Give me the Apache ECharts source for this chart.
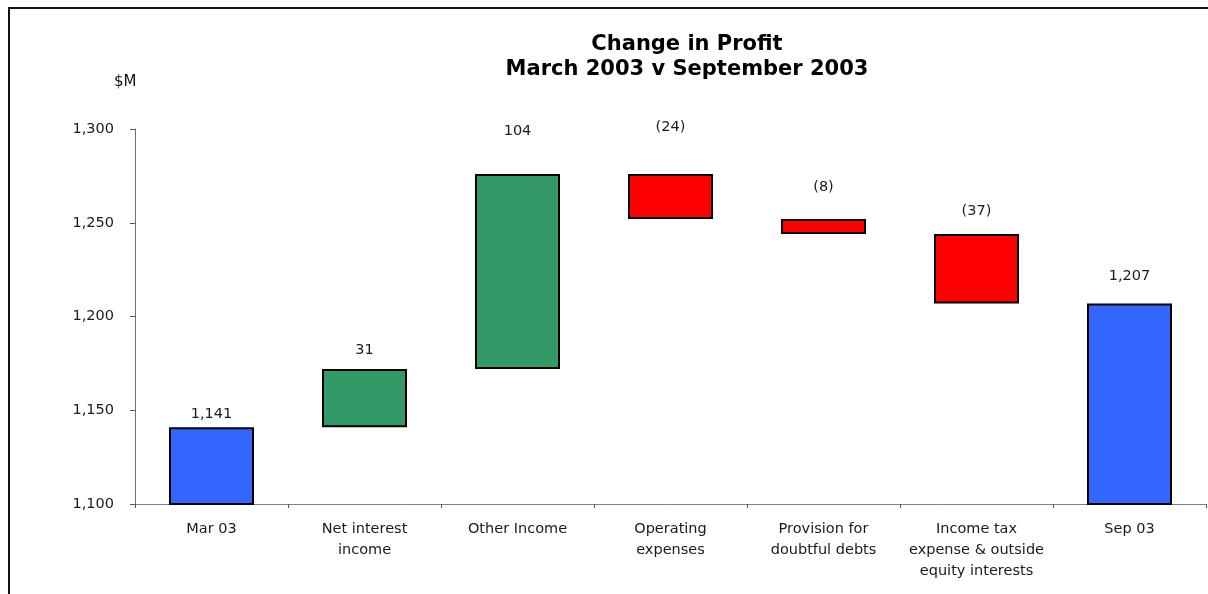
<!DOCTYPE html>
<html>
<head>
<meta charset="utf-8">
<title>Change in Profit</title>
<script src="https://cdn.jsdelivr.net/npm/echarts@6/dist/echarts.min.js"></script>
<style>
  html, body { margin: 0; padding: 0; background: #ffffff; overflow: hidden; }
  #chart { width: 1208px; height: 594px; }
</style>
</head>
<body>
<div id="chart"></div>
<script>
// Profit bridge, $M
const categories = [
  'Mar 03',
  'Net interest\nincome',
  'Other Income',
  'Operating\nexpenses',
  'Provision for\ndoubtful debts',
  'Income tax\nexpense & outside\nequity interests',
  'Sep 03'
];
const openingProfit = 1141;
const profitChanges = [31, 104, -24, -8, -37];
const closingProfit = 1207;
const yTicks = { min: 1100, max: 1300, interval: 50 };

// how far each value label sits above its bar (px)
const labelGaps = [5, 11, 35, 39, 24, 15, 20];

const COLOR_TOTAL = '#3366FF';
const COLOR_UP = '#339966';
const COLOR_DOWN = '#FF0000';
const FONT = '"DejaVu Sans", Verdana, sans-serif';

// Build the floating bars: an invisible base plus the visible step
const baseValues = [0];
const stepValues = [openingProfit];
const stepColors = [COLOR_TOTAL];
const labelTexts = [openingProfit];
let running = openingProfit;
profitChanges.forEach(function (d) {
  const next = running + d;
  baseValues.push(Math.min(running, next));
  stepValues.push(Math.abs(d));
  stepColors.push(d >= 0 ? COLOR_UP : COLOR_DOWN);
  labelTexts.push(d);
  running = next;
});
baseValues.push(0);
stepValues.push(closingProfit);
stepColors.push(COLOR_TOTAL);
labelTexts.push(closingProfit);

function fmt(v) {
  const s = Math.abs(v).toLocaleString('en-US');
  return v < 0 ? '(' + s + ')' : s;
}

const chart = echarts.init(document.getElementById('chart'), null, { renderer: 'canvas' });

chart.setOption({
  animation: false,
  backgroundColor: '#ffffff',
  title: {
    text: 'Change in Profit\nMarch 2003 v September 2003',
    left: 687,
    top: 32,
    padding: 0,
    textAlign: 'center',
    textStyle: {
      fontFamily: FONT,
      fontWeight: 'bold',
      fontSize: 21,
      lineHeight: 25,
      color: '#000000'
    }
  },
  graphic: [
    {
      // page frame, left edge
      type: 'line',
      silent: true,
      shape: { x1: 9, y1: 8, x2: 9, y2: 600 },
      style: { stroke: '#111111', lineWidth: 2 }
    },
    {
      // page frame, top edge
      type: 'line',
      silent: true,
      shape: { x1: 8, y1: 8, x2: 1210, y2: 8 },
      style: { stroke: '#111111', lineWidth: 2 }
    },
    {
      type: 'text',
      left: 114,
      top: 75,
      style: { text: '$M', font: '15px ' + FONT, fill: '#111111' }
    }
  ],
  grid: { left: 135, right: 2, top: 129, bottom: 90, containLabel: false },
  xAxis: {
    type: 'category',
    data: categories,
    axisLine: { lineStyle: { color: '#808080', width: 1 } },
    axisTick: { show: true, length: 4, lineStyle: { color: '#555555' } },
    axisLabel: {
      margin: 15,
      interval: 0,
      fontFamily: FONT,
      fontSize: 14.5,
      lineHeight: 21,
      color: '#1a1a1a'
    },
    splitLine: { show: false }
  },
  yAxis: {
    type: 'value',
    min: yTicks.min,
    max: yTicks.max,
    interval: yTicks.interval,
    axisLine: { show: true, lineStyle: { color: '#707070', width: 1 } },
    axisTick: { show: true, length: 5, lineStyle: { color: '#555555' } },
    axisLabel: {
      margin: 21,
      fontFamily: FONT,
      fontSize: 14.5,
      color: '#1a1a1a',
      formatter: function (v) { return v.toLocaleString('en-US'); }
    },
    splitLine: { show: false }
  },
  series: [
    {
      name: 'base',
      type: 'bar',
      stack: 'bridge',
      barWidth: 85,
      silent: true,
      itemStyle: { color: 'transparent', borderWidth: 0 },
      data: baseValues
    },
    {
      name: 'step',
      type: 'bar',
      stack: 'bridge',
      barWidth: 85,
      data: stepValues.map(function (v, i) {
        return {
          value: v,
          itemStyle: { color: stepColors[i] },
          label: { distance: labelGaps[i] }
        };
      }),
      itemStyle: { borderColor: '#000000', borderWidth: 2 },
      label: {
        show: true,
        position: 'top',
        fontFamily: FONT,
        fontSize: 14.5,
        color: '#1a1a1a',
        formatter: function (p) { return fmt(labelTexts[p.dataIndex]); }
      }
    }
  ]
});
</script>
</body>
</html>
